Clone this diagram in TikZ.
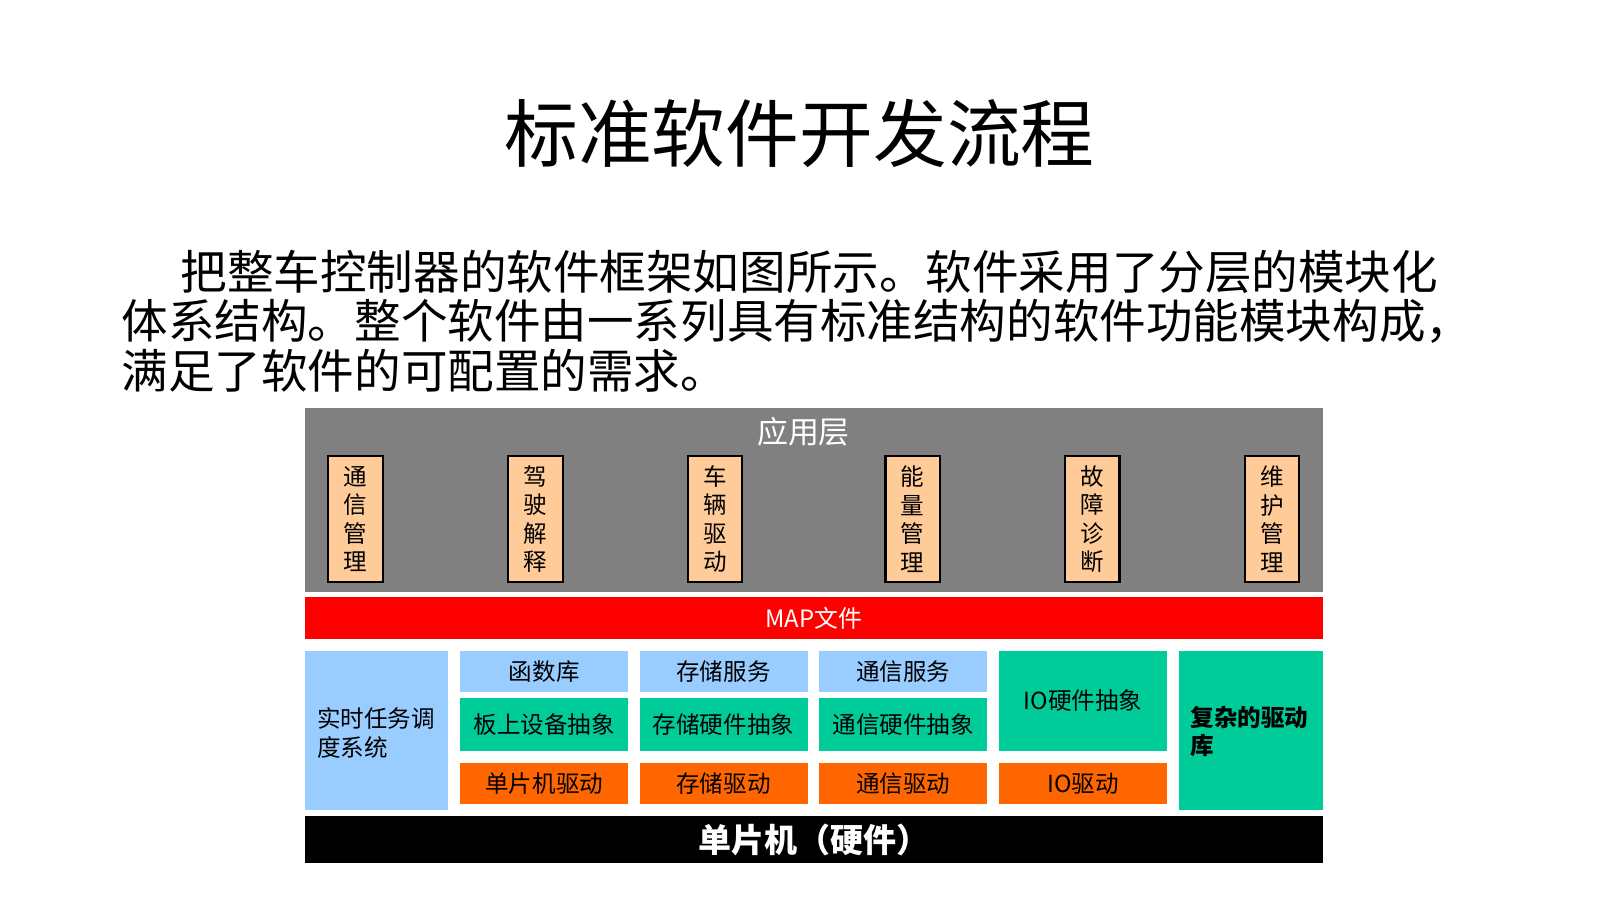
\documentclass[tikz,border=0pt]{standalone}
\usepackage{fontspec}
\setmainfont{Noto Sans CJK SC}
\definecolor{layergray}{HTML}{808080}
\definecolor{peach}{HTML}{FFCC99}
\definecolor{mapred}{HTML}{FF0000}
\definecolor{svcblue}{HTML}{99CCFF}
\definecolor{hwgreen}{HTML}{00CC99}
\definecolor{drvorange}{HTML}{FF6600}
\tikzset{
  layer/.style={inner sep=0pt, minimum width=101.8mm},
  appbox/.style={draw=black, line width=0.6pt, fill=peach, inner sep=0pt,
    minimum width=5.45mm, minimum height=12.6mm, align=center,
    font=\fontsize{6.7pt}{8.1pt}\selectfont},
  modbox/.style={inner sep=0pt, minimum width=16.8mm,
    font=\fontsize{6.7pt}{8pt}\selectfont},
  paraline/.style={anchor=west, inner sep=0pt,
    font=\fontsize{13.25pt}{14pt}\selectfont}
}
\begin{document}
\begin{tikzpicture}[x=0.1mm,y=-0.1mm]
  \useasboundingbox (0,0) rectangle (1600,900);
  % title and text
  \node[inner sep=0pt, font=\fontsize{21pt}{22pt}\selectfont] (title) at (799.5,133.5) {标准软件开发流程};
  \node[paraline] (line1) at (180,272) {把整车控制器的软件框架如图所示。软件采用了分层的模块化};
  \node[paraline] (line2) at (121,321) {体系结构。整个软件由一系列具有标准结构的软件功能模块构成，};
  \node[paraline] (line3) at (121,371) {满足了软件的可配置的需求。};
  % application layer
  \node[layer, fill=layergray, minimum height=18.37mm] (app) at (813.7,499.85) {};
  \node[inner sep=0pt, text=white, font=\fontsize{8.8pt}{9pt}\selectfont] (applabel) at (803.5,432) {应用层};
  \foreach \x/\t [count=\i] in {355.5/通\\信\\管\\理, 535.5/驾\\驶\\解\\释, 714.8/车\\辆\\驱\\动,
                               912.7/能\\量\\管\\理, 1092.2/故\\障\\诊\\断, 1272/维\\护\\管\\理}
    \node[appbox] (app\i) at (\x,519) {\t};
  % map file
  \node[layer, fill=mapred, minimum height=4.23mm, text=white,
        font=\fontsize{6.8pt}{7pt}\selectfont] (map) at (813.7,617.85) {MAP文件};
  % basic software
  \node[fill=svcblue, inner sep=0pt, minimum width=14.36mm, minimum height=15.96mm] (rtos) at (376.5,730.5) {};
  \node[anchor=west, inner sep=0pt, align=left, font=\fontsize{6.7pt}{8pt}\selectfont] (rtoslabel) at (316.5,733) {实时任务调\\度系统};
  \foreach \x/\a/\b/\c [count=\i] in {544.3/函数库/板上设备抽象/单片机驱动,
                                       723.5/存储服务/存储硬件抽象/存储驱动,
                                       903.3/通信服务/通信硬件抽象/通信驱动} {
    \node[modbox, fill=svcblue, minimum height=4.13mm] (svc\i) at (\x,671.35) {\a};
    \node[modbox, fill=hwgreen, minimum height=5.33mm] (hw\i) at (\x,724.35) {\b};
    \node[modbox, fill=drvorange, minimum height=4.13mm] (drv\i) at (\x,783.65) {\c};
  }
  \node[modbox, fill=hwgreen, minimum height=10.03mm] (iohw) at (1083,700.85) {IO硬件抽象};
  \node[modbox, fill=drvorange, minimum height=4.13mm] (iodrv) at (1083,783.65) {IO驱动};
  \node[fill=hwgreen, inner sep=0pt, minimum width=14.37mm, minimum height=15.96mm] (cdd) at (1250.85,730.5) {};
  \node[anchor=west, inner sep=0pt, align=left, font=\fontsize{6.7pt}{8pt}\selectfont\bfseries] (cddlabel) at (1190,732) {复杂的驱动\\库};
  % hardware
  \node[layer, fill=black, minimum height=4.73mm, text=white,
        font=\fontsize{9.4pt}{10pt}\selectfont\bfseries] (mcu) at (813.7,839.65) {单片机（硬件）};
\end{tikzpicture}
\end{document}
